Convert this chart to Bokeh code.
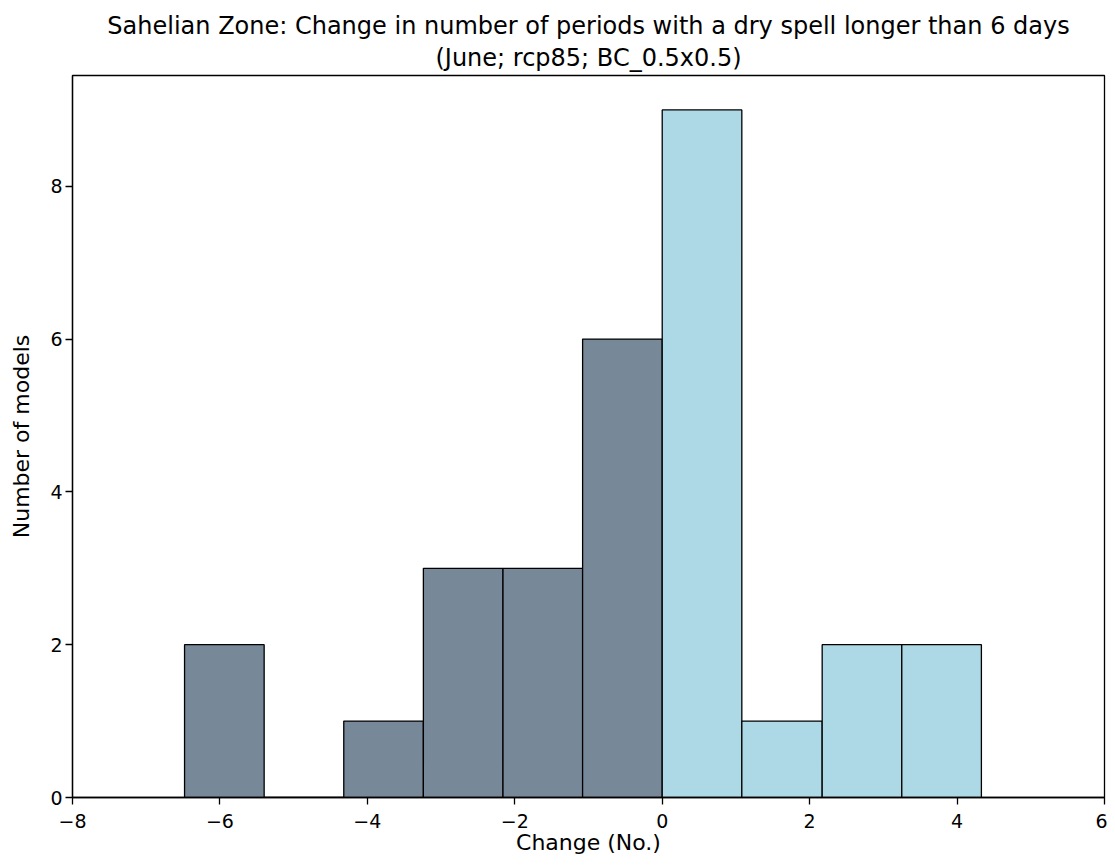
from bokeh.plotting import figure
from bokeh.models import Title, FixedTicker, ColumnDataSource, Range1d
from bokeh.embed import file_html
from bokeh.resources import INLINE

# Histogram data (bin edges and counts)
bin_left = [-6.48, -5.40, -4.32, -3.24, -2.16, -1.08, 0.0, 1.08, 2.17, 3.25]
bin_right = [-5.40, -4.32, -3.24, -2.16, -1.08, 0.0, 1.08, 2.17, 3.25, 4.33]
counts = [2, 0, 1, 3, 3, 6, 9, 1, 2, 2]
colors = ["#778899", "#778899", "#778899", "#778899", "#778899", "#778899",
          "#ADD8E6", "#ADD8E6", "#ADD8E6", "#ADD8E6"]

x_ticks = [-8, -6, -4, -2, 0, 2, 4, 6]
x_tick_labels = ["\u22128", "\u22126", "\u22124", "\u22122", "0", "2", "4", "6"]
y_ticks = [0, 2, 4, 6, 8]
y_tick_labels = ["0", "2", "4", "6", "8"]

title1 = "Sahelian Zone: Change in number of periods with a dry spell longer than 6 days"
title2 = "(June; rcp85; BC_0.5x0.5)"
x_label = "Change (No.)"
y_label = "Number of models"

FONT = "DejaVu Sans"

p = figure(width=1107, height=857, output_backend="svg", toolbar_location=None,
           x_range=Range1d(-8, 6), y_range=Range1d(0, 9.45),
           min_border_left=72, min_border_right=3, min_border_top=75, min_border_bottom=60)

src = ColumnDataSource(dict(left=bin_left, right=bin_right, top=counts,
                            bottom=[0] * len(counts), color=colors))
p.quad(left="left", right="right", top="top", bottom="bottom", source=src,
       fill_color="color", line_color="black", line_width=1.3)

p.xgrid.visible = False
p.ygrid.visible = False
p.outline_line_color = "black"
p.outline_line_width = 1.3
p.outline_line_alpha = 1

for ax, ticks, labels in ((p.xaxis[0], x_ticks, x_tick_labels), (p.yaxis[0], y_ticks, y_tick_labels)):
    ax.ticker = FixedTicker(ticks=ticks)
    ax.major_label_overrides = {t: l for t, l in zip(ticks, labels)}
    ax.minor_tick_line_color = None
    ax.major_tick_in = 0
    ax.major_tick_out = 7
    ax.major_tick_line_color = "black"
    ax.major_tick_line_width = 1.3
    ax.axis_line_color = "black"
    ax.axis_line_width = 1.3
    ax.major_label_text_font = FONT
    ax.major_label_text_font_size = "19px"
    ax.major_label_text_color = "black"
    ax.axis_label_text_font = FONT
    ax.axis_label_text_font_size = "22px"
    ax.axis_label_text_font_style = "normal"
    ax.axis_label_text_color = "black"

p.xaxis.axis_label = x_label
p.yaxis.axis_label = y_label
p.xaxis.major_label_standoff = 9
p.xaxis.axis_label_standoff = -1
p.yaxis.major_label_standoff = 3
p.yaxis.axis_label_standoff = 13

p.title = None
t2 = Title(text=title2, align="center", text_font=FONT, text_font_size="24px",
           text_font_style="normal", text_color="black", standoff=8)
t1 = Title(text=title1, align="center", text_font=FONT, text_font_size="24px",
           text_font_style="normal", text_color="black", standoff=0)
try:
    t1.standoff = -5
except Exception:
    t1.standoff = 0
p.add_layout(t2, "above")
p.add_layout(t1, "above")

open("out.html", "w").write(file_html(p, INLINE))
